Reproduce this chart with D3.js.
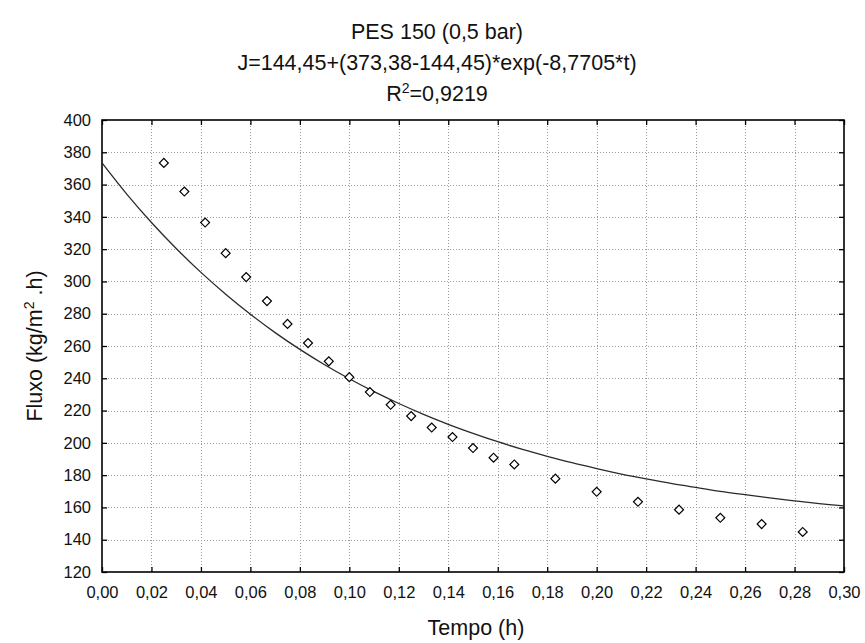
<!DOCTYPE html>
<html>
<head>
<meta charset="utf-8">
<script src="https://cdn.jsdelivr.net/npm/d3@7"></script>
<style>
  html, body { margin: 0; padding: 0; background: #ffffff; }
  svg { display: block; font-family: "Liberation Sans", Arial, sans-serif; }
</style>
</head>
<body>
<svg id="chart" width="865" height="643"></svg>
<script>
// ---- data ----
const titleLines = ["PES 150 (0,5 bar)", "J=144,45+(373,38-144,45)*exp(-8,7705*t)"];
const rSquared = "0,9219";
const xLabel = "Tempo (h)";

// observed points: time (h) and flux (kg/m2.h)
const times = [0.025, 0.0333, 0.0417, 0.05, 0.0583, 0.0667, 0.075, 0.0833, 0.0917, 0.1,
               0.1083, 0.1167, 0.125, 0.1333, 0.1417, 0.15, 0.1583, 0.1667,
               0.1833, 0.2, 0.2167, 0.2333, 0.25, 0.2667, 0.2833];
const flux = [373.4, 355.7, 336.5, 317.5, 302.7, 287.8, 273.7, 261.8, 250.5, 240.7,
              231.5, 223.6, 216.6, 209.5, 203.6, 196.8, 190.8, 186.6,
              177.8, 169.7, 163.5, 158.6, 153.6, 149.7, 144.8];

// fitted curve
const fitTimes = [0, 0.01, 0.02, 0.03, 0.04, 0.05, 0.06, 0.07, 0.08, 0.09, 0.10, 0.11, 0.12, 0.13, 0.14, 0.15,
                  0.16, 0.17, 0.18, 0.19, 0.20, 0.21, 0.22, 0.23, 0.24, 0.25, 0.26, 0.27, 0.28, 0.29, 0.30];
const fitFlux = [373.4, 354.1, 336.5, 320.4, 305.6, 292.1, 279.7, 268.3, 257.9, 248.4, 239.7, 231.7, 224.4,
                 217.7, 211.5, 205.9, 200.7, 196.0, 191.7, 187.7, 184.1, 180.7, 177.7, 174.9, 172.4, 170.0,
                 167.9, 165.9, 164.1, 162.4, 160.9];

const xTicks = [0, 0.02, 0.04, 0.06, 0.08, 0.10, 0.12, 0.14, 0.16, 0.18, 0.20, 0.22, 0.24, 0.26, 0.28, 0.30];
const yTicks = [120, 140, 160, 180, 200, 220, 240, 260, 280, 300, 320, 340, 360, 380, 400];

// ---- layout ----
const W = 865, H = 643;
const plot = { left: 102, right: 844, top: 120, bottom: 572 };
const svg = d3.select("#chart");

const x = d3.scaleLinear().domain([0, 0.30]).range([plot.left, plot.right]);
const y = d3.scaleLinear().domain([120, 400]).range([plot.bottom, plot.top]);
const fmt = v => d3.format(".2f")(v).replace(".", ",");

svg.append("rect").attr("width", W).attr("height", H).attr("fill", "#ffffff");

// grid
const grid = svg.append("g").attr("stroke", "#9a9a9a").attr("stroke-width", 1).attr("stroke-dasharray", "1,2");
grid.selectAll("line.vx").data(xTicks.slice(1, -1)).join("line")
  .attr("x1", d => Math.round(x(d)) + 0.5).attr("x2", d => Math.round(x(d)) + 0.5)
  .attr("y1", plot.top).attr("y2", plot.bottom);
grid.selectAll("line.hy").data(yTicks.slice(1, -1)).join("line")
  .attr("y1", d => Math.round(y(d)) + 0.5).attr("y2", d => Math.round(y(d)) + 0.5)
  .attr("x1", plot.left).attr("x2", plot.right);

// axes
const tickFont = 16.5;
const titleFont = 21.5;
const axB = svg.append("g").attr("transform", `translate(0,${plot.bottom})`)
  .call(d3.axisBottom(x).tickValues(xTicks).tickFormat(fmt).tickSizeInner(-5).tickSizeOuter(0).tickPadding(14));
const axL = svg.append("g").attr("transform", `translate(${plot.left},0)`)
  .call(d3.axisLeft(y).tickValues(yTicks).tickFormat(d3.format("d")).tickSizeInner(-5).tickSizeOuter(0).tickPadding(11));
const axT = svg.append("g").attr("transform", `translate(0,${plot.top})`)
  .call(d3.axisTop(x).tickValues(xTicks).tickFormat("").tickSizeInner(-5).tickSizeOuter(0));
const axR = svg.append("g").attr("transform", `translate(${plot.right},0)`)
  .call(d3.axisRight(y).tickValues(yTicks).tickFormat("").tickSizeInner(-5).tickSizeOuter(0));
[axB, axL, axT, axR].forEach(a => {
  a.select(".domain").remove();
  a.selectAll(".tick line").attr("stroke", "#000").attr("stroke-width", 1.3);
  a.selectAll("text").attr("font-size", tickFont).attr("fill", "#111")
    .attr("font-family", "'Liberation Sans', Arial, sans-serif");
});

// frame
svg.append("rect")
  .attr("x", plot.left).attr("y", plot.top)
  .attr("width", plot.right - plot.left).attr("height", plot.bottom - plot.top)
  .attr("fill", "none").attr("stroke", "#000").attr("stroke-width", 1.6);

// fitted curve
const line = d3.line().x((d, i) => x(fitTimes[i])).y(d => y(d)).curve(d3.curveCatmullRom);
svg.append("path").datum(fitFlux)
  .attr("d", line).attr("fill", "none").attr("stroke", "#2a2a2a").attr("stroke-width", 1.3);

// observed points (open diamonds)
const sym = d3.symbol().type(d3.symbolSquare).size(40);
svg.append("g").selectAll("path").data(flux).join("path")
  .attr("d", sym)
  .attr("transform", (d, i) => `translate(${x(times[i])},${y(d)}) rotate(45)`)
  .attr("fill", "#ffffff").attr("stroke", "#000").attr("stroke-width", 1.2);

// titles
const tcx = 437;
const tg = svg.append("g").attr("text-anchor", "middle").attr("font-size", titleFont).attr("fill", "#111");
tg.append("text").attr("x", tcx).attr("y", 39).text(titleLines[0]);
tg.append("text").attr("x", tcx).attr("y", 70).text(titleLines[1]);
const r2 = tg.append("text").attr("x", tcx).attr("y", 101);
r2.append("tspan").text("R");
r2.append("tspan").attr("dy", -8).attr("font-size", 14).text("2");
r2.append("tspan").attr("dy", 8).text("=" + rSquared);

// axis titles
svg.append("text").attr("x", 476).attr("y", 635)
  .attr("text-anchor", "middle").attr("font-size", titleFont).attr("fill", "#111").text(xLabel);
const yl = svg.append("text")
  .attr("transform", `translate(42,${(plot.top + plot.bottom) / 2}) rotate(-90)`)
  .attr("text-anchor", "middle").attr("font-size", titleFont).attr("fill", "#111");
yl.append("tspan").text("Fluxo (kg/m");
yl.append("tspan").attr("dy", -8).attr("font-size", 14).text("2");
yl.append("tspan").attr("dy", 8).text(" .h)");
</script>
</body>
</html>
